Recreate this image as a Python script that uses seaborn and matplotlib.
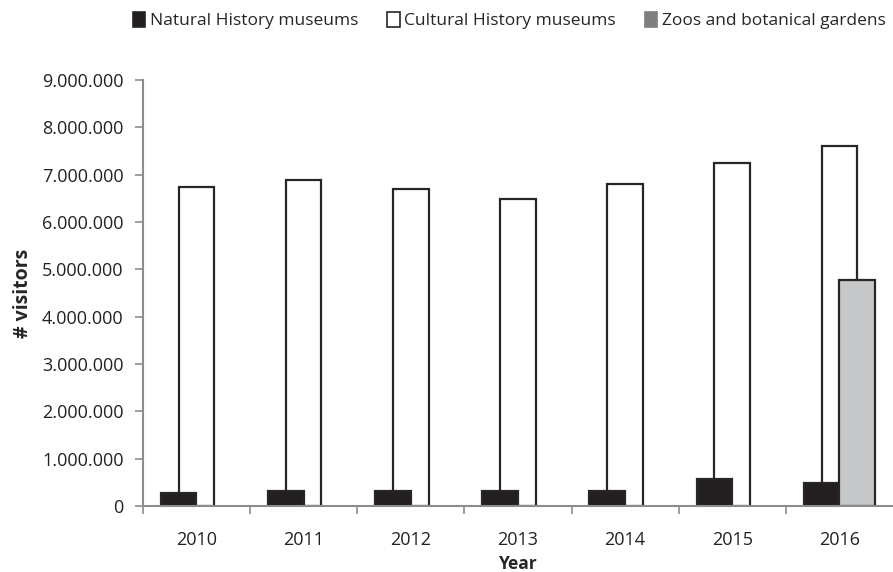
import numpy as np
import matplotlib
matplotlib.use("Agg")
import matplotlib.pyplot as plt
from matplotlib.patches import Patch
from matplotlib.ticker import FuncFormatter, FixedLocator
import seaborn as sns

# data
years = [2010, 2011, 2012, 2013, 2014, 2015, 2016]
natural = [280000, 320000, 320000, 320000, 320000, 580000, 490000]
cultural = [6750000, 6880000, 6700000, 6480000, 6800000, 7240000, 7600000]
zoo_years = [2016]
zoos = [4780000]

sns.set_style("white")
plt.rcParams['font.family'] = ['Open Sans', 'DejaVu Sans']

fig = plt.figure(figsize=(8.93, 5.72), dpi=100)
ax = fig.add_axes([0.160, 0.1154, 0.840, 0.7446])

bw = 1 / 3
edge = "#262626"
c_nat = "#231f20"
c_cult = "#ffffff"
c_zoo = "#c6c7c9"

# cultural first so the others overlap it
sns.barplot(x=np.array(years), y=cultural, native_scale=True, width=bw,
            color=c_cult, saturation=1, edgecolor=edge, linewidth=1.6,
            errorbar=None, ax=ax)
sns.barplot(x=np.array(years) - bw / 2, y=natural, native_scale=True, width=bw,
            color=c_nat, saturation=1, edgecolor=edge, linewidth=1.6,
            errorbar=None, ax=ax)
sns.barplot(x=np.array(zoo_years) + bw / 2, y=zoos, native_scale=True, width=bw,
            color=c_zoo, saturation=1, edgecolor=edge, linewidth=1.6,
            errorbar=None, ax=ax)

ax.set_xlim(years[0] - 0.5, years[-1] + 0.5)
ax.set_ylim(0, 9000000)
ax.set_yticks(np.arange(0, 9000001, 1000000))
ax.yaxis.set_major_formatter(FuncFormatter(lambda v, p: f"{v:,.0f}".replace(",", ".")))

ax.xaxis.set_major_locator(FixedLocator([y - 0.5 for y in years]))
ax.xaxis.set_major_formatter(FuncFormatter(lambda v, p: ""))
ax.xaxis.set_minor_locator(FixedLocator(years))
ax.xaxis.set_minor_formatter(FuncFormatter(lambda v, p: f"{int(round(v))}"))

grey = "#8c8c8c"
for s in ["top", "right"]:
    ax.spines[s].set_visible(False)
for s in ["left", "bottom"]:
    ax.spines[s].set_color(grey)
    ax.spines[s].set_linewidth(1.5)
ax.tick_params(axis="y", which="major", direction="out", length=6, width=1.2,
               color=grey, labelsize=13, labelcolor="#222222", pad=8, left=True)
ax.tick_params(axis="x", which="major", direction="out", length=6, width=1.2,
               color=grey, bottom=True)
ax.tick_params(axis="x", which="minor", length=0, labelsize=13,
               labelcolor="#222222", pad=18)

ax.set_xlabel("Year", fontsize=12.5, fontweight="bold", labelpad=4)
ax.set_ylabel("# visitors", fontsize=14, fontweight="bold", labelpad=6)

handles = [
    Patch(facecolor=c_nat, edgecolor=edge, linewidth=1.2, label="Natural History museums"),
    Patch(facecolor=c_cult, edgecolor=edge, linewidth=1.2, label="Cultural History museums"),
    Patch(facecolor="#7f7f7f", edgecolor="#7f7f7f", linewidth=1.2, label="Zoos and botanical gardens"),
]
fig.legend(handles=handles, loc="upper right", bbox_to_anchor=(1.005, 1.0), ncol=3,
           frameon=False, fontsize=12.5, handlelength=0.7, handleheight=0.9,
           handletextpad=0.25, columnspacing=1.7, borderaxespad=0.3)

fig.savefig("out.png", dpi=100)
